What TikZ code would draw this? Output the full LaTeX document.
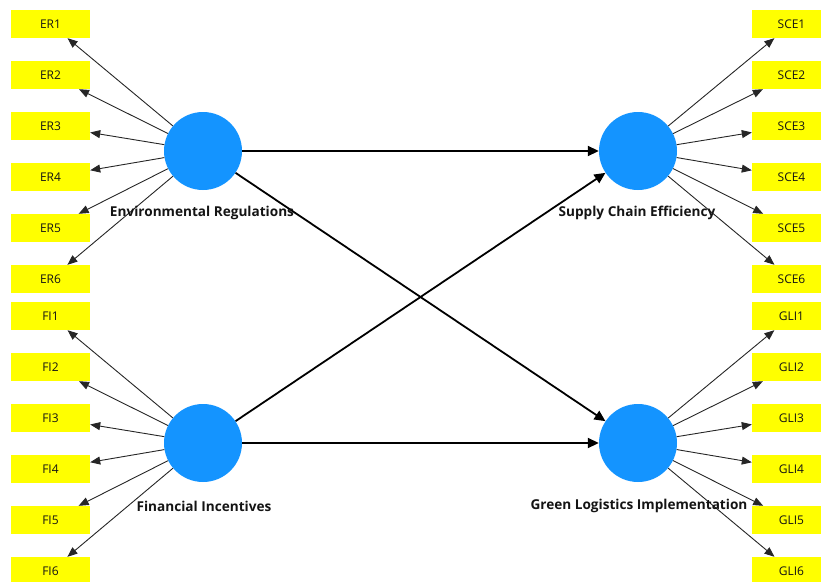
\documentclass[tikz,border=0pt]{standalone}
\usepackage{fontspec}
\setmainfont{Open Sans}
\usetikzlibrary{arrows.meta}
\definecolor{lvblue}{RGB}{20,148,255}
\definecolor{indyellow}{RGB}{255,255,0}
\definecolor{txt}{RGB}{20,20,20}
\begin{document}
\begin{tikzpicture}[x=1pt,y=-1pt,
  ind/.style={fill=indyellow, minimum width=79pt, minimum height=28pt, inner sep=0pt,
    text=txt, font=\fontsize{12}{13}\selectfont},
  lv/.style={circle, fill=lvblue, minimum size=78pt, inner sep=0pt},
  lvlabel/.style={text=txt, font=\bfseries\fontsize{13.6}{15}\selectfont},
  indarrow/.style={-{Triangle[length=10pt,width=8pt]}, line width=0.9pt, draw=black!85},
  patharrow/.style={-{Triangle[length=11pt,width=10pt]}, line width=1.8pt, draw=black}]
\useasboundingbox (0,0) rectangle (821,581);
\clip (0,0) rectangle (821,581);
% latent variables
\node[lv] (ER) at (203,151) {};
\node[lv] (SCE) at (638,151) {};
\node[lv] (FI) at (203,443) {};
\node[lv] (GLI) at (638,443) {};
% indicators
\foreach \i in {1,...,6}{
  \node[ind] (ER\i) at (50.5,{24+51*(\i-1)}) {ER\i};
  \node[ind] (FI\i) at (50.5,{316+51*(\i-1)}) {FI\i};
  \node[ind] (SCE\i) at (791.5,{24+51*(\i-1)}) {SCE\i};
  \node[ind] (GLI\i) at (791.5,{316+51*(\i-1)}) {GLI\i};
}
% indicator arrows
\foreach \i in {1,...,6}{
  \draw[indarrow] (ER) -- (ER\i);
  \draw[indarrow] (FI) -- (FI\i);
  \draw[indarrow] (SCE) -- (SCE\i);
  \draw[indarrow] (GLI) -- (GLI\i);
}
% structural paths
\draw[patharrow] (ER) -- (SCE);
\draw[patharrow] (ER) -- (GLI);
\draw[patharrow] (FI) -- (SCE);
\draw[patharrow] (FI) -- (GLI);
% labels
\node[lvlabel] (ERl) at (202,213) {Environmental Regulations};
\node[lvlabel] (SCEl) at (637,213) {Supply Chain Efficiency};
\node[lvlabel] (FIl) at (204,506) {Financial Incentives};
\node[lvlabel] (GLIl) at (639,506) {Green Logistics Implementation};
\end{tikzpicture}
\end{document}
